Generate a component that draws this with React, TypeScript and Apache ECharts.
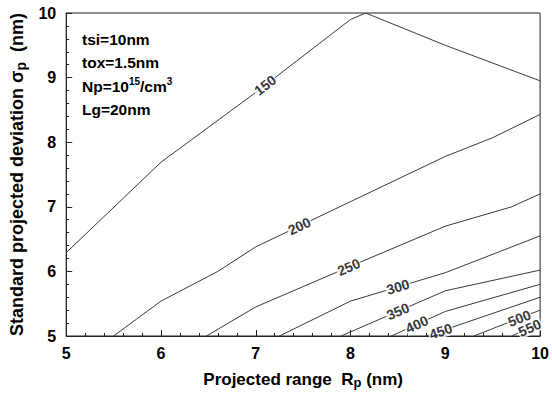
import React, { useEffect, useRef } from "react";
import * as echarts from "echarts";

// Contour lines: x = projected range Rp (nm), y = standard projected deviation (nm)
const levels = [150, 200, 250, 300, 350, 400, 450, 500, 550];
const lineX: number[][] = [
  [5, 6, 7, 8, 8.16, 9, 10],
  [5.5, 6, 6.6, 7, 8, 9, 9.5, 10],
  [6.48, 7, 8, 9, 9.7, 10],
  [7.25, 8, 9, 10],
  [7.9, 9, 10],
  [8.43, 9, 10],
  [8.8, 10],
  [9.3, 10],
  [9.7, 10],
];
const lineY: number[][] = [
  [6.29, 7.69, 8.77, 9.9, 10, 9.5, 8.95],
  [5, 5.54, 6.0, 6.38, 7.08, 7.78, 8.07, 8.43],
  [5, 5.45, 6.08, 6.7, 7.0, 7.2],
  [5, 5.54, 5.98, 6.55],
  [5, 5.7, 6.02],
  [5, 5.38, 5.8],
  [5, 5.6],
  [5, 5.4],
  [5, 5.2],
];
const labelX = [7.1, 7.46, 7.98, 8.5, 8.5, 8.7, 8.95, 9.78, 9.89];

const xTicks = [5, 6, 7, 8, 9, 10];
const yTicks = [5, 6, 7, 8, 9, 10];

function interpY(xs: number[], ys: number[], x: number) {
  for (let i = 0; i < xs.length - 1; i++) {
    if (x >= xs[i] && x <= xs[i + 1]) {
      const t = (x - xs[i]) / (xs[i + 1] - xs[i]);
      return { y: ys[i] + t * (ys[i + 1] - ys[i]), i };
    }
  }
  return { y: ys[ys.length - 1], i: xs.length - 2 };
}

const FONT = "Arial, 'Liberation Sans', sans-serif";

export default function App() {
  const ref = useRef<HTMLDivElement>(null);
  useEffect(() => {
    if (!ref.current) return;
    const chart = echarts.init(ref.current, undefined, { renderer: "svg" });
    const lineSeries = levels.map((lv, k) => ({
      type: "line",
      name: String(lv),
      data: lineX[k].map((x, i) => [x, lineY[k][i]]),
      symbol: "none",
      smooth: false,
      lineStyle: { color: "#3a3a3a", width: 1 },
      silent: true,
      z: 2,
    }));
    const xRich = {
      t: { fontFamily: FONT, fontWeight: "bold", fontSize: 17, color: "#000" },
      s: { fontFamily: FONT, fontWeight: "bold", fontSize: 13, color: "#000", padding: [7, 0, 0, 0] },
    };
    const yRich = {
      t: { fontFamily: FONT, fontWeight: "bold", fontSize: 18, color: "#000" },
      s: { fontFamily: FONT, fontWeight: "bold", fontSize: 14, color: "#000", padding: [7, 0, 0, 0] },
    };
    const base: any = {
      animation: false,
      backgroundColor: "#fff",
      grid: {
        left: 58,
        right: 8,
        top: 13,
        bottom: 56,
        show: true,
        borderColor: "#222",
        borderWidth: 1,
      },
      xAxis: {
        type: "value",
        min: xTicks[0],
        max: xTicks[xTicks.length - 1],
        interval: 1,
        axisLine: { lineStyle: { color: "#222", width: 1 } },
        axisTick: { inside: true, length: 6, lineStyle: { color: "#222" } },
        minorTick: { show: true, splitNumber: 5, length: 3, lineStyle: { color: "#222" } },
        splitLine: { show: false },
        axisLabel: { color: "#000", fontFamily: FONT, fontWeight: "bold", fontSize: 16, margin: 9 },
        name: "{t|Projected range  R}{s|p}{t| (nm)}",
        nameLocation: "middle",
        nameGap: 33,
        nameTextStyle: { rich: xRich },
      },
      yAxis: {
        type: "value",
        min: yTicks[0],
        max: yTicks[yTicks.length - 1],
        interval: 1,
        axisLine: { lineStyle: { color: "#222", width: 1 } },
        axisTick: { inside: true, length: 6, lineStyle: { color: "#222" } },
        minorTick: { show: true, splitNumber: 5, length: 3, lineStyle: { color: "#222" } },
        splitLine: { show: false },
        axisLabel: { color: "#000", fontFamily: FONT, fontWeight: "bold", fontSize: 16, margin: 10 },
        name: "{t|Standard projected deviation σ}{s|p}{t|  (nm)}",
        nameLocation: "middle",
        nameRotate: 90,
        nameGap: 38,
        nameTextStyle: { rich: yRich },
      },
      series: lineSeries,
      graphic: [
        {
          type: "text",
          left: 82,
          top: 31,
          style: {
            text: "{a|tsi=10nm}\n{a|tox=1.5nm}\n{a|Np=10}{b|15}{a|/cm}{b|3}\n{a|Lg=20nm}",
            rich: {
              a: { fontFamily: FONT, fontWeight: "bold", fontSize: 15.5, fill: "#000", lineHeight: 23.5 },
              b: { fontFamily: FONT, fontWeight: "bold", fontSize: 10, fill: "#000", lineHeight: 23.5, padding: [0, 0, 9, 0] },
            },
          },
          z: 10,
        },
      ],
    };
    chart.setOption(base);

    const labelData = levels.map((lv, k) => {
      const xs = lineX[k];
      const ys = lineY[k];
      const { y, i } = interpY(xs, ys, labelX[k]);
      const p1 = chart.convertToPixel({ gridIndex: 0 }, [xs[i], ys[i]]) as number[];
      const p2 = chart.convertToPixel({ gridIndex: 0 }, [xs[i + 1], ys[i + 1]]) as number[];
      const ang = (Math.atan2(-(p2[1] - p1[1]), p2[0] - p1[0]) * 180) / Math.PI;
      return {
        value: [labelX[k], y],
        label: { rotate: ang },
        name: String(lv),
      };
    });

    chart.setOption({
      series: [
        ...lineSeries,
        {
          type: "scatter",
          data: labelData,
          symbolSize: 0,
          silent: true,
          z: 5,
          label: {
            show: true,
            position: "inside",
            formatter: (p: any) => p.name,
            fontFamily: FONT,
            fontWeight: "bold",
            fontSize: 14,
            color: "#000",
            backgroundColor: "#fff",
            padding: [0, 1],
          },
        },
      ],
    });
    return () => chart.dispose();
  }, []);
  return <div ref={ref} style={{ width: 552, height: 394, position: "absolute", left: 0, top: 0 }} />;
}
